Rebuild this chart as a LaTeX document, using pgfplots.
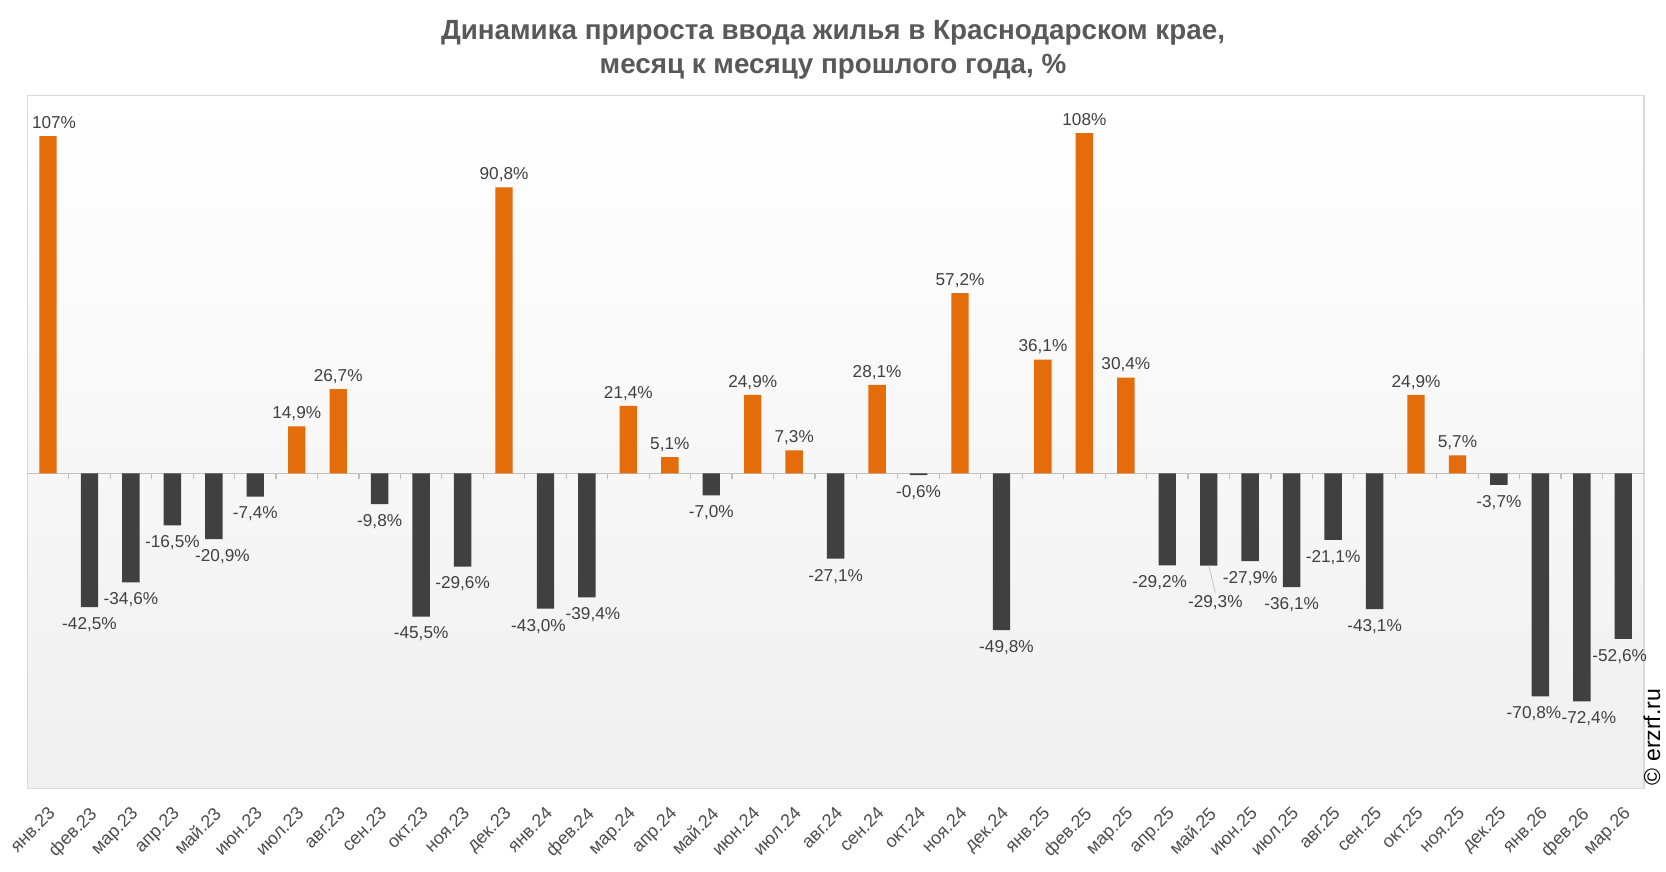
\documentclass[border=0pt]{standalone}
\usepackage{fontspec}
\setmainfont{Liberation Sans}
\usepackage{pgfplots}
\usepackage{pgfplotstable}
\pgfplotsset{compat=1.18}
\definecolor{barorange}{HTML}{E46C0A}
\definecolor{bardark}{HTML}{404040}
\definecolor{lbltext}{HTML}{404040}
\definecolor{ticktext}{HTML}{4D4D4D}
\definecolor{titletext}{HTML}{595959}
\definecolor{framecol}{HTML}{D9D9D9}
\definecolor{zerocol}{HTML}{BFBFBF}
\definecolor{bgbot}{HTML}{F0F0F0}

\pgfplotstableread{
x y lbl dx dy
0 107 107 3 0
6 14.9 14,9 0 0
7 26.7 26,7 0 0
11 90.8 90,8 0 0
14 21.4 21,4 0 0
15 5.1 5,1 0 0
17 24.9 24,9 0 0
18 7.3 7,3 0 0
20 28.1 28,1 0 0
22 57.2 57,2 0 0
24 36.1 36,1 0 0
25 108 108 0 0
26 30.4 30,4 0 0
33 24.9 24,9 0 0
34 5.7 5,7 0 0
}\postab

\pgfplotstableread{
x y lbl dx dy
1 -42.5 -42,5 0 0
2 -34.6 -34,6 0 0
3 -16.5 -16,5 0 0
4 -20.9 -20,9 4.3 0
5 -7.4 -7,4 0 0
8 -9.8 -9,8 0 0
9 -45.5 -45,5 0 0
10 -29.6 -29,6 0 0
12 -43.0 -43,0 -3.5 0
13 -39.4 -39,4 3 0
16 -7.0 -7,0 0 0
19 -27.1 -27,1 0 0
21 -0.6 -0,6 0 0
23 -49.8 -49,8 2.5 0
27 -29.2 -29,2 -3.8 0
28 -29.3 -29,3 3.3 -10
29 -27.9 -27,9 0 0
30 -36.1 -36,1 0 0
31 -21.1 -21,1 0 0
32 -43.1 -43,1 0 0
35 -3.7 -3,7 0 0
36 -70.8 -70,8 -3.2 0
37 -72.4 -72,4 3.5 0
38 -52.6 -52,6 -1.8 0
}\negtab

\begin{document}
\begin{tikzpicture}
\useasboundingbox (0,0) rectangle (833pt,436pt);
\node[font=\fontsize{13.9}{16}\selectfont\bfseries, text=titletext, anchor=center] at (416.5pt,419.7pt) {Динамика прироста ввода жилья в Краснодарском крае,};
\node[font=\fontsize{13.9}{16}\selectfont\bfseries, text=titletext, anchor=center] at (416.5pt,402.7pt) {месяц к месяцу прошлого года, \%};
\begin{axis}[
  at={(13.65pt,41.85pt)}, anchor=south west,
  scale only axis, width=808.35pt, height=346.5pt,
  xmin=-0.5, xmax=38.5, ymin=-100, ymax=120,
  ytick=\empty,
  xtick={0,...,38},
  xticklabels={янв.23,фев.23,мар.23,апр.23,май.23,июн.23,июл.23,авг.23,сен.23,окт.23,ноя.23,дек.23,янв.24,фев.24,мар.24,апр.24,май.24,июн.24,июл.24,авг.24,сен.24,окт.24,ноя.24,дек.24,янв.25,фев.25,мар.25,апр.25,май.25,июн.25,июл.25,авг.25,сен.25,окт.25,ноя.25,дек.25,янв.26,фев.26,мар.26},
  major tick length=0pt,
  xticklabel style={font=\fontsize{9}{10}\selectfont, text=ticktext, xshift=-0.5pt, yshift=-8.5pt, rotate=45, anchor=north east, inner sep=0pt},
  axis line style={draw=framecol, line width=0.6pt},
  axis background/.style={top color=white, bottom color=bgbot},
  clip=false,
  ybar, bar width=8.7pt,
]
\draw[draw=zerocol, line width=0.6pt] (axis cs:-0.5,0) -- (axis cs:38.5,0);
\pgfplotsinvokeforeach{0,...,37}{
  \draw[draw=zerocol, line width=0.6pt] (axis cs:#1+0.5,0) -- ++(0pt,-3pt);
}
\addplot[fill=barorange, draw=none, bar shift=0pt,
  point meta=explicit symbolic,
  visualization depends on={\thisrow{dx}\as\dx},
  visualization depends on={\thisrow{dy}\as\dy},
  nodes near coords={\pgfplotspointmeta\%},
  every node near coord/.append style={font=\fontsize{8.6}{10}\selectfont, text=lbltext, anchor=base, inner sep=0pt, xshift=\dx pt, yshift=3.8pt+\dy pt},
] table[x=x, y=y, meta=lbl] {\postab};
\addplot[fill=bardark, draw=none, bar shift=0pt,
  point meta=explicit symbolic,
  visualization depends on={\thisrow{dx}\as\dx},
  visualization depends on={\thisrow{dy}\as\dy},
  nodes near coords={\pgfplotspointmeta\%},
  every node near coord/.append style={font=\fontsize{8.6}{10}\selectfont, text=lbltext, anchor=north, inner sep=0pt, xshift=\dx pt, yshift=-5pt+\dy pt},
] table[x=x, y=y, meta=lbl] {\negtab};
\draw[draw=gray!45, line width=0.4pt] (axis cs:28,-29.3) -- ++(3.3pt,-13.5pt);
\end{axis}
\node[font=\fontsize{11.5}{13}\selectfont, text=black, rotate=90, anchor=center] at (826pt,67.5pt) {© erzrf.ru};
\end{tikzpicture}
\end{document}
